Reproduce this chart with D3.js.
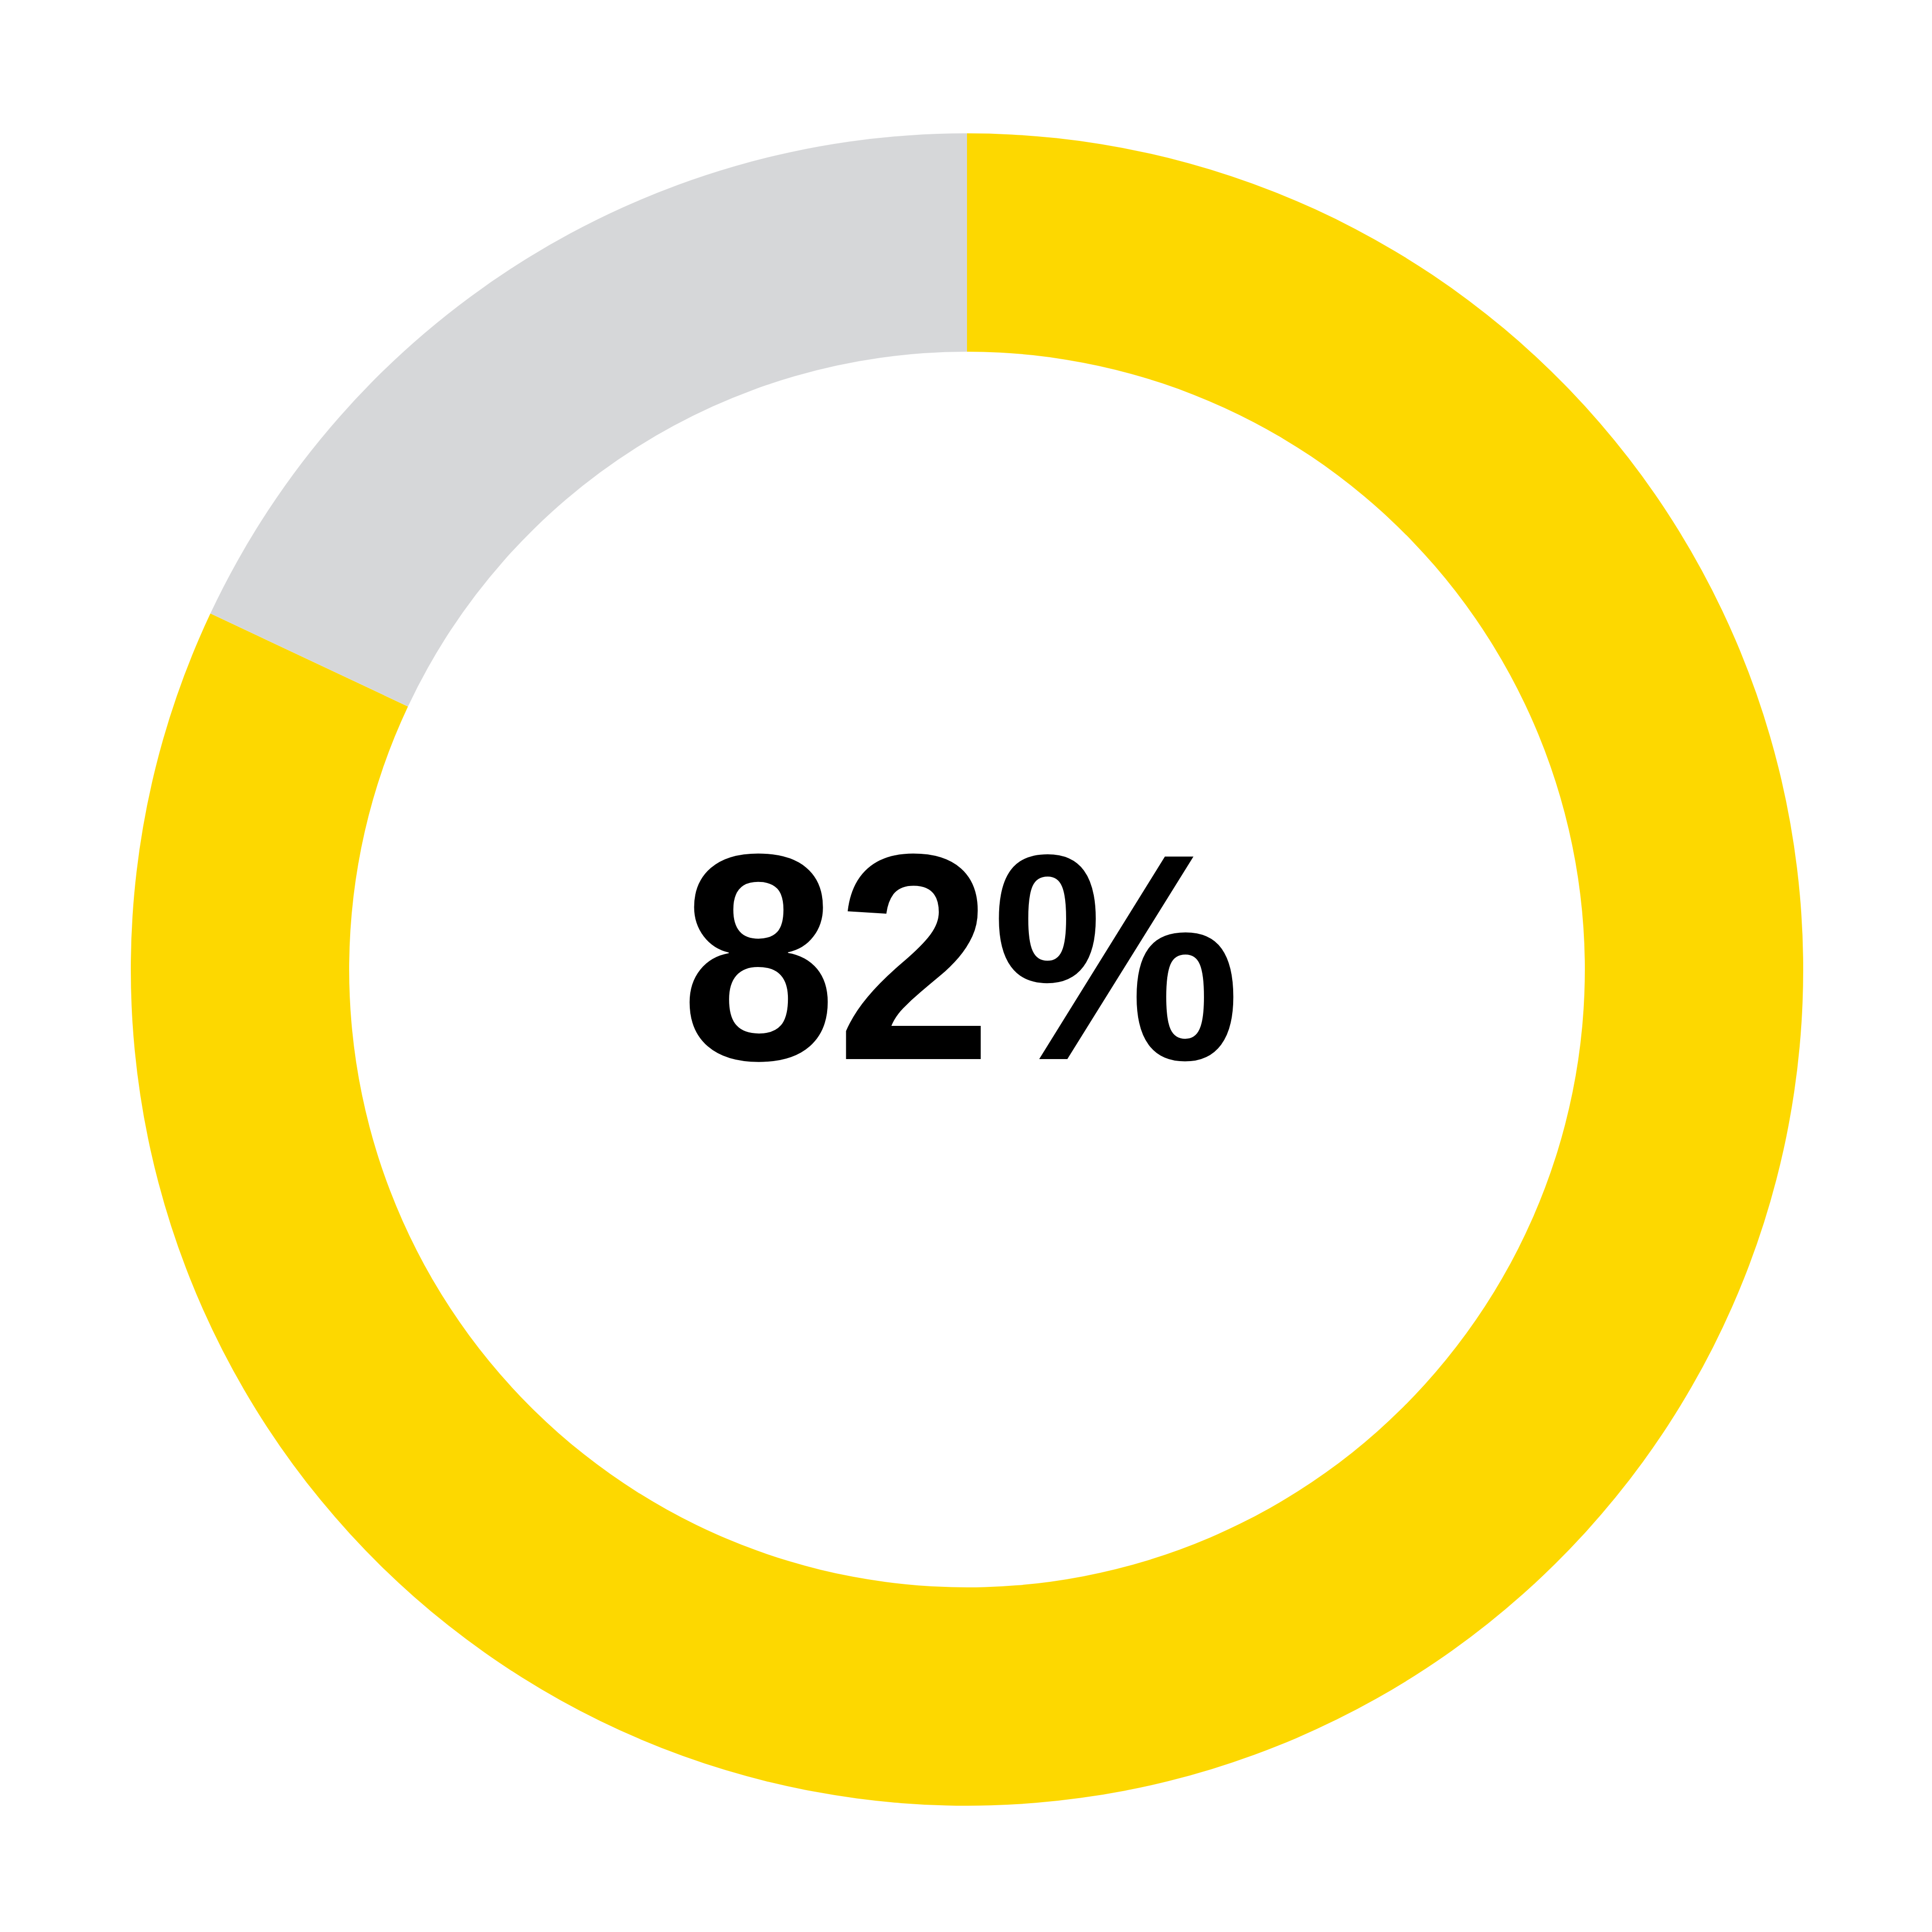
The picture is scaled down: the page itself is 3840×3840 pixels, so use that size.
<!DOCTYPE html>
<html>
<head>
<meta charset="utf-8">
<script src="https://cdn.jsdelivr.net/npm/d3@7"></script>
<style>
	html, body { margin: 0; padding: 0; background: #fff; }
</style>
</head>
<body>
<svg id="js-donut-svg" width="3840" height="3840"></svg>
<script>
// data
const categories = ["yes", "rest"];
const values = [82, 18];
const label = "82%";

// definicion
const width = 3840;
const height = 3840;
const cx = 1922;
const cy = 1927;
const outerRadius = 1662;
const innerRadius = 1228;

const data = categories.map((name, i) => ({ name: name, value: values[i] }));

const color = d3.scaleOrdinal()
	.domain(categories)
	.range(["#fdd800", "#d6d7d9"]);

// markup
const svg = d3.select('#js-donut-svg')
	.attr('viewBox', `0 0 ${width} ${height}`);

const g = svg.append('g')
	.attr('class', 'arcs')
	.attr('transform', `translate(${cx}, ${cy})`);

const pie = d3.pie()
	.value(d => d.value)
	.sort(null);

const arc = d3.arc()
	.outerRadius(outerRadius)
	.innerRadius(innerRadius);

g.selectAll('path')
	.data(pie(data))
	.join('path')
	.attr('d', arc)
	.attr('fill', d => color(d.data.name));

// center label
g.append('text')
	.attr('x', -569)
	.attr('y', 178)
	.attr('font-family', 'Liberation Sans')
	.attr('font-weight', 'bold')
	.attr('font-size', 585)
	.attr('textLength', 1113)
	.attr('lengthAdjust', 'spacingAndGlyphs')
	.attr('fill', '#000')
	.text(label);

// small caption, white on white
svg.append('text')
	.attr('x', 20)
	.attr('y', 3820)
	.attr('font-size', 100)
	.attr('fill', '#fff')
	.text(`${values[0]}% / ${values[1]}%`);
</script>
</body>
</html>
